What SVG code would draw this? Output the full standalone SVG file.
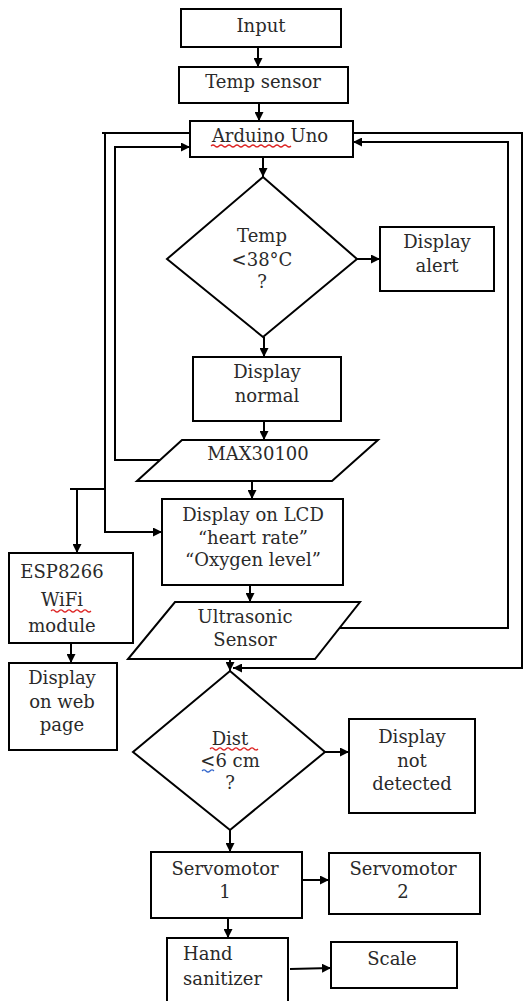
<svg xmlns="http://www.w3.org/2000/svg" width="526" height="1001" viewBox="0 0 526 1001">
<defs>
<marker id="ah" viewBox="0 0 10 10" refX="10" refY="5" markerWidth="9" markerHeight="9" markerUnits="userSpaceOnUse" orient="auto">
<path d="M0,0 L10,5 L0,10 z" fill="#000"/>
</marker>
</defs>
<style>
.box{fill:#fff;stroke:#000;stroke-width:2}
.t{font-family:"DejaVu Serif","Liberation Serif",serif;font-size:18px;fill:#2a2a2a;text-anchor:middle}
.tl{font-family:"DejaVu Serif","Liberation Serif",serif;font-size:18px;fill:#2a2a2a}
.c{fill:none;stroke:#000;stroke-width:2;marker-end:url(#ah)}
.cn{fill:none;stroke:#000;stroke-width:2}
.sq{fill:none;stroke:#d22;stroke-width:1.2}
</style>
<rect width="526" height="1001" fill="#fff"/>
<g id="connectors">
<path class="c" d="M258,47 V67"/>
<path class="c" d="M259,103 V121"/>
<path class="c" d="M263,157 V177"/>
<path class="c" d="M357,259 H380"/>
<path class="c" d="M264,337 V357"/>
<path class="c" d="M264,421 V440"/>
<path class="c" d="M252,481 V499"/>
<path class="c" d="M163,460 H115 V147 H190"/>
<path class="c" d="M190,133 H102 M105,133 V532 H162"/>
<path class="c" d="M105,489 H70 M77,489 V553"/>
<path class="c" d="M250,585 V602"/>
<path class="c" d="M71,643 V663"/>
<path class="c" d="M230,659 V671"/>
<path class="c" d="M353,133 H522 V668 H233"/>
<path class="c" d="M340,628 H508 V142 H353"/>
<path class="c" d="M325,752 H349"/>
<path class="c" d="M230,830 V852"/>
<path class="c" d="M302,880 H329"/>
<path class="c" d="M228,918 V938"/>
<path class="c" d="M290,969 L331,968"/>
</g>
<g id="input"><rect class="box" x="181" y="9" width="160" height="38"/><text class="t" x="261" y="32">Input</text></g>
<g id="temp-sensor"><rect class="box" x="179" y="67" width="169" height="36"/><text class="t" x="263" y="88">Temp sensor</text></g>
<g id="arduino"><rect class="box" x="190" y="121" width="163" height="36"/><text class="t" x="270" y="142">Arduino Uno</text>
<path class="sq" d="M211,146 q2,-2 4,0 t4,0 t4,0 t4,0 t4,0 t4,0 t4,0 t4,0 t4,0 t4,0 t4,0 t4,0 t4,0 t4,0 t4,0 t4,0 t4,0 t4,0 t4,0 t4,0"/></g>
<g id="temp-decision"><path class="box" d="M263,177 L357,259 L263,337 L167,259 Z"/>
<text class="t" x="262" y="242">Temp</text><text class="t" x="262" y="266">&lt;38°C</text><text class="t" x="262" y="288">?</text></g>
<g id="display-alert"><rect class="box" x="380" y="227" width="114" height="64"/><text class="t" x="437" y="248">Display</text><text class="t" x="437" y="272">alert</text></g>
<g id="display-normal"><rect class="box" x="193" y="357" width="148" height="64"/><text class="t" x="267" y="378">Display</text><text class="t" x="267" y="402">normal</text></g>
<g id="max30100"><path class="box" d="M182,440 H378 L332,481 H137 Z"/><text class="t" x="258" y="460">MAX30100</text></g>
<g id="lcd"><rect class="box" x="162" y="499" width="181" height="86"/><text class="t" x="253" y="521">Display on LCD</text><text class="t" x="253" y="544">“heart rate”</text><text class="t" x="253" y="566">“Oxygen level”</text></g>
<g id="esp8266"><rect class="box" x="9" y="553" width="124" height="90"/><text class="t" x="62" y="578">ESP8266</text><text class="t" x="62" y="606">WiFi</text><text class="t" x="62" y="632">module</text>
<path class="sq" d="M51,611 q2,-2 4,0 t4,0 t4,0 t4,0 t4,0 t4,0 t4,0 t4,0 t4,0 t4,0"/></g>
<g id="ultrasonic"><path class="box" d="M175,602 H360 L315,659 H128 Z"/><text class="t" x="245" y="623">Ultrasonic</text><text class="t" x="245" y="646">Sensor</text></g>
<g id="web-page"><rect class="box" x="9" y="663" width="108" height="87"/><text class="t" x="62" y="684">Display</text><text class="t" x="62" y="708">on web</text><text class="t" x="62" y="731">page</text></g>
<g id="dist-decision"><path class="box" d="M230,671 L325,752 L230,830 L133,752 Z"/>
<text class="t" x="230" y="745">Dist</text><text class="t" x="230" y="767">&lt;6 cm</text><text class="t" x="230" y="789">?</text>
<path class="sq" d="M210,749 q2,-2 4,0 t4,0 t4,0 t4,0 t4,0 t4,0 t4,0 t4,0 t4,0 t4,0 t4,0 t4,0"/>
<path class="sq" style="stroke:#36c" d="M202,771 q2,-2 4,0 t4,0 t4,0"/></g>
<g id="not-detected"><rect class="box" x="349" y="719" width="126" height="94"/><text class="t" x="412" y="743">Display</text><text class="t" x="412" y="767">not</text><text class="t" x="412" y="790">detected</text></g>
<g id="servo1"><rect class="box" x="151" y="852" width="151" height="66"/><text class="t" x="225" y="875">Servomotor</text><text class="t" x="225" y="898">1</text></g>
<g id="servo2"><rect class="box" x="329" y="853" width="151" height="61"/><text class="t" x="403" y="875">Servomotor</text><text class="t" x="403" y="898">2</text></g>
<g id="hand-sanitizer"><rect class="box" x="167" y="938" width="121" height="64"/><text class="tl" x="183" y="960">Hand</text><text class="tl" x="183" y="985">sanitizer</text></g>
<g id="scale"><rect class="box" x="331" y="942" width="126" height="46"/><text class="t" x="392" y="965">Scale</text></g>
</svg>
